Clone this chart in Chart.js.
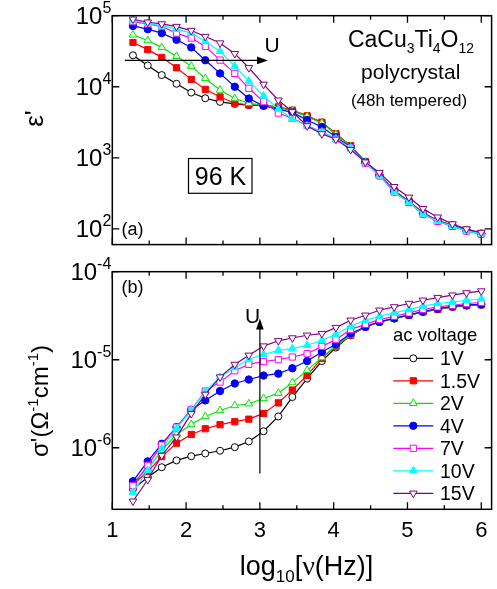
<!DOCTYPE html>
<html>
<head>
<meta charset="utf-8">
<script src="https://cdn.jsdelivr.net/npm/chart.js@4.4.1/dist/chart.umd.min.js"></script>
<style>
  html, body { margin: 0; padding: 0; background: #fff; }
  #wrap { position: relative; width: 497px; height: 589px; overflow: hidden; }
  canvas { position: absolute; left: 0; }
</style>
</head>
<body>
<div id="wrap">
  <canvas id="epsChart" width="497" height="250" style="top:0;width:497px;height:250px"></canvas>
  <canvas id="sigChart" width="497" height="339" style="top:250px;width:497px;height:339px"></canvas>
</div>
<script>
// ---- measured data: log10 of the frequency in Hz ----
const logFreq = [1.28, 1.48, 1.67, 1.87, 2.07, 2.26, 2.46, 2.66, 2.85, 3.05, 3.25, 3.44, 3.64,
                 3.84, 4.03, 4.23, 4.43, 4.62, 4.82, 5.02, 5.21, 5.41, 5.61, 5.80, 6.00];

const voltages = ['1V', '1.5V', '2V', '4V', '7V', '10V', '15V'];

// dielectric constant eps'
const eps1V   = [27700, 19900, 14600, 11000, 8280, 6890, 6120, 5740, 5510, 5420, 5160, 4620, 3850, 3130, 2160, 1460, 877, 581, 344, 243, 167, 131, 112, 96, 86];
const eps1p5V = [42000, 33300, 25900, 18500, 12700, 9200, 7180, 5860, 5550, 5450, 5200, 4680, 3900, 3170, 2190, 1480, 885, 585, 346, 244, 168, 131, 112, 96, 86];
const eps2V   = [53800, 44800, 35800, 26800, 19500, 13100, 8990, 6820, 5860, 5510, 5190, 4590, 3800, 3090, 2140, 1450, 873, 578, 342, 242, 166, 131, 111, 95.5, 85.5];
const eps4V   = [71800, 64600, 56900, 45800, 35800, 23600, 15400, 10000, 6820, 5380, 4840, 4360, 3400, 2720, 1970, 1410, 861, 569, 337, 239, 164, 129, 110, 94.6, 85.1];
const eps7V   = [82400, 76600, 70300, 56900, 48400, 37000, 23700, 15400, 9510, 6150, 4260, 3590, 2850, 2310, 1845, 1380, 841, 556, 330, 234, 161, 127, 108, 93.3, 84.1];
const eps10V  = [87100, 78300, 71800, 64600, 56900, 43400, 31500, 19500, 12000, 7410, 4840, 3510, 2820, 2310, 1845, 1380, 847, 560, 331, 236, 162, 128, 109, 93.8, 85.1];
const eps15V  = [89100, 80900, 76600, 70300, 61800, 50900, 41200, 29200, 18500, 10800, 6460, 4440, 2810, 2170, 1820, 1300, 869, 619, 392, 278, 192, 146, 117, 99.3, 88.7];

// real part of the conductivity sigma' (1/(Ohm cm))
const sig1V   = [3.39e-7, 4.63e-7, 6.01e-7, 7.18e-7, 8.02e-7, 8.61e-7, 9.25e-7, 1.016e-6, 1.18e-6, 1.54e-6, 2.27e-6, 3.77e-6, 6.10e-6, 9.66e-6, 1.374e-5, 1.897e-5, 2.355e-5, 2.685e-5, 2.94e-5, 3.20e-5, 3.49e-5, 3.74e-5, 3.98e-5, 4.12e-5, 4.20e-5];
const sig1p5V = [3.80e-7, 5.37e-7, 7.94e-7, 1.127e-6, 1.416e-6, 1.644e-6, 1.828e-6, 1.977e-6, 2.113e-6, 2.455e-6, 3.236e-6, 4.53e-6, 6.65e-6, 1.035e-5, 1.429e-5, 1.90e-5, 2.36e-5, 2.69e-5, 2.94e-5, 3.20e-5, 3.49e-5, 3.74e-5, 3.98e-5, 4.12e-5, 4.21e-5];
const sig2V   = [4.07e-7, 5.75e-7, 9.33e-7, 1.413e-6, 1.841e-6, 2.27e-6, 2.65e-6, 3.02e-6, 3.16e-6, 3.63e-6, 4.17e-6, 5.50e-6, 7.57e-6, 1.057e-5, 1.445e-5, 1.905e-5, 2.366e-5, 2.69e-5, 2.95e-5, 3.21e-5, 3.51e-5, 3.76e-5, 4.00e-5, 4.14e-5, 4.24e-5];
const sig4V   = [4.17e-7, 7.01e-7, 1.109e-6, 1.714e-6, 2.70e-6, 3.45e-6, 4.41e-6, 5.37e-6, 5.96e-6, 6.61e-6, 6.95e-6, 8.0e-6, 9.66e-6, 1.225e-5, 1.496e-5, 1.982e-5, 2.37e-5, 2.70e-5, 2.95e-5, 3.24e-5, 3.53e-5, 3.80e-5, 4.03e-5, 4.17e-5, 4.27e-5];
const sig7V   = [3.72e-7, 6.31e-7, 1.072e-6, 1.714e-6, 2.70e-6, 4.41e-6, 5.57e-6, 7.5e-6, 8.85e-6, 9.55e-6, 1.002e-5, 1.074e-5, 1.172e-5, 1.419e-5, 1.694e-5, 2.198e-5, 2.53e-5, 2.86e-5, 3.12e-5, 3.40e-5, 3.72e-5, 3.98e-5, 4.16e-5, 4.35e-5, 4.47e-5];
const sig10V  = [3.13e-7, 5.52e-7, 9.75e-7, 1.66e-6, 2.66e-6, 4.37e-6, 6.35e-6, 8.13e-6, 1.012e-5, 1.148e-5, 1.279e-5, 1.337e-5, 1.459e-5, 1.663e-5, 1.945e-5, 2.40e-5, 2.81e-5, 3.12e-5, 3.40e-5, 3.72e-5, 4.06e-5, 4.35e-5, 4.53e-5, 4.74e-5, 4.90e-5];
const sig15V  = [2.47e-7, 4.33e-7, 8.17e-7, 1.321e-6, 2.44e-6, 4.04e-6, 6.35e-6, 8.83e-6, 1.122e-5, 1.429e-5, 1.641e-5, 1.766e-5, 1.897e-5, 1.982e-5, 2.317e-5, 2.81e-5, 3.20e-5, 3.65e-5, 3.98e-5, 4.35e-5, 4.74e-5, 5.08e-5, 5.41e-5, 5.74e-5, 6.03e-5];

// axis ticks
const xMajorTicks = [1, 2, 3, 4, 5, 6];
const xMinorTicks = [1.5, 2.5, 3.5, 4.5, 5.5];
const epsTicks = [1e2, 1e3, 1e4, 1e5];
const sigTicks = [1e-6, 1e-5, 1e-4];

// arrows marking increasing voltage U (data coordinates)
const epsArrow = { from: [1.17, 23500], to: [3.11, 23500] };
const sigArrow = { from: [3.0, 5.1e-7], to: [3.0, 2.94e-5] };

// ---- drawing ----
const SANS = '"Liberation Sans", Arial, Helvetica, sans-serif';
const SERIF = '"Liberation Serif", "Times New Roman", serif';

const styles = [
  { color: '#000000', point: 'circle',   open: true,  r: 3.5, rot: 0 },
  { color: '#ff0000', point: 'rect',     open: false, r: 4.4, rot: 0 },
  { color: '#00e600', point: 'triangle', open: true,  r: 4.4, rot: 0 },
  { color: '#0000ff', point: 'circle',   open: false, r: 3.7, rot: 0 },
  { color: '#ff00ff', point: 'rect',     open: true,  r: 4.4, rot: 0 },
  { color: '#00ffff', point: 'triangle', open: false, r: 4.4, rot: 0 },
  { color: '#800080', point: 'triangle', open: true,  r: 4.4, rot: 180 }
];

function makeDatasets(seriesList) {
  return seriesList.map((vals, i) => {
    const s = styles[i];
    return {
      label: voltages[i],
      data: logFreq.map((f, k) => ({ x: f, y: vals[k] })),
      showLine: true,
      borderColor: s.color,
      borderWidth: 1.2,
      tension: 0,
      pointStyle: s.point,
      pointRotation: s.rot,
      pointRadius: s.r,
      pointHoverRadius: s.r,
      pointBorderColor: s.color,
      pointBackgroundColor: s.open ? '#ffffff' : s.color,
      pointBorderWidth: 1,
      order: 7 - i
    };
  });
}

function drawRich(ctx, parts, x, y, align) {
  let w = 0;
  for (const p of parts) {
    ctx.font = p.s + 'px ' + (p.fam || SANS);
    w += ctx.measureText(p.t).width;
  }
  let cx = align === 'center' ? x - w / 2 : (align === 'right' ? x - w : x);
  ctx.textAlign = 'left';
  ctx.textBaseline = 'alphabetic';
  for (const p of parts) {
    ctx.font = p.s + 'px ' + (p.fam || SANS);
    ctx.fillText(p.t, cx, y + (p.dy || 0));
    cx += ctx.measureText(p.t).width;
  }
}

function drawArrow(ctx, x1, y1, x2, y2) {
  const ang = Math.atan2(y2 - y1, x2 - x1);
  const L = 11, W = 3.8;
  ctx.beginPath();
  ctx.moveTo(x1, y1);
  ctx.lineTo(x2 - L * 0.8 * Math.cos(ang), y2 - L * 0.8 * Math.sin(ang));
  ctx.stroke();
  ctx.beginPath();
  ctx.moveTo(x2, y2);
  ctx.lineTo(x2 - L * Math.cos(ang) - W * Math.sin(ang), y2 - L * Math.sin(ang) + W * Math.cos(ang));
  ctx.lineTo(x2 - L * Math.cos(ang) + W * Math.sin(ang), y2 - L * Math.sin(ang) - W * Math.cos(ang));
  ctx.closePath();
  ctx.fill();
}

// frame with inward ticks on all four sides, plus decade labels on the left
const framePlugin = {
  id: 'framePlugin',
  afterDatasetsDraw(chart, args, opts) {
    const { ctx, chartArea: a } = chart;
    const xs = chart.scales.x, ys = chart.scales.y;
    ctx.save();
    ctx.strokeStyle = '#000';
    ctx.fillStyle = '#000';
    ctx.lineWidth = 1.5;
    ctx.strokeRect(a.left, a.top, a.right - a.left, a.bottom - a.top);
    ctx.lineWidth = 1.3;
    ctx.beginPath();
    for (const v of xMajorTicks) {
      const px = xs.getPixelForValue(v);
      ctx.moveTo(px, a.bottom); ctx.lineTo(px, a.bottom - 7);
      ctx.moveTo(px, a.top); ctx.lineTo(px, a.top + 7);
    }
    for (const v of xMinorTicks) {
      const px = xs.getPixelForValue(v);
      ctx.moveTo(px, a.bottom); ctx.lineTo(px, a.bottom - 4);
      ctx.moveTo(px, a.top); ctx.lineTo(px, a.top + 4);
    }
    for (const v of opts.yTicks) {
      const py = ys.getPixelForValue(v);
      ctx.moveTo(a.left, py); ctx.lineTo(a.left + 7, py);
      ctx.moveTo(a.right, py); ctx.lineTo(a.right - 7, py);
    }
    ctx.stroke();
    // decade labels 10^n
    for (const v of opts.yTicks) {
      const py = ys.getPixelForValue(v);
      const e = Math.round(Math.log10(v));
      drawRich(ctx, [
        { t: '10', s: 24, dy: 8.5 },
        { t: String(e), s: 16, dy: -2.5 }
      ], a.left - 1, py, 'right');
    }
    if (opts.xLabels) {
      ctx.font = '22px ' + SANS;
      ctx.textAlign = 'center';
      ctx.textBaseline = 'alphabetic';
      for (const v of xMajorTicks) {
        ctx.fillText(String(v), xs.getPixelForValue(v), a.bottom + 27.5);
      }
    }
    ctx.restore();
  },
  afterDraw(chart, args, opts) {
    if (opts.extra) opts.extra(chart);
  }
};

function epsExtras(chart) {
  const { ctx } = chart;
  const xs = chart.scales.x, ys = chart.scales.y;
  ctx.save();
  ctx.fillStyle = '#000';
  ctx.strokeStyle = '#000';
  // y axis title
  ctx.save();
  ctx.translate(43, 118.5);
  ctx.rotate(-Math.PI / 2);
  drawRich(ctx, [{ t: 'ε', s: 26 }, { t: '\'', s: 26 }], 0, 0, 'center');
  ctx.restore();
  // sample description
  drawRich(ctx, [
    { t: 'CaCu', s: 23 }, { t: '3', s: 14, dy: 6 },
    { t: 'Ti', s: 23 }, { t: '4', s: 14, dy: 6 },
    { t: 'O', s: 23 }, { t: '12', s: 14, dy: 6 }
  ], 411, 46.7, 'center');
  drawRich(ctx, [{ t: 'polycrystal', s: 21 }], 410.7, 78.5, 'center');
  drawRich(ctx, [{ t: '(48h tempered)', s: 17 }], 409, 106, 'center');
  // temperature box
  ctx.lineWidth = 1.2;
  ctx.strokeRect(188.5, 158.5, 63.5, 34.8);
  drawRich(ctx, [{ t: '96 K', s: 25 }], 220.5, 185, 'center');
  // panel tag
  drawRich(ctx, [{ t: '(a)', s: 18 }], 121.5, 234.5, 'left');
  // voltage arrow
  ctx.lineWidth = 1.2;
  drawArrow(ctx,
    xs.getPixelForValue(epsArrow.from[0]), ys.getPixelForValue(epsArrow.from[1]),
    xs.getPixelForValue(epsArrow.to[0]), ys.getPixelForValue(epsArrow.to[1]));
  drawRich(ctx, [{ t: 'U', s: 21 }], 264.5, 52, 'left');
  ctx.restore();
}

function sigExtras(chart) {
  const { ctx } = chart;
  const xs = chart.scales.x, ys = chart.scales.y;
  ctx.save();
  ctx.fillStyle = '#000';
  ctx.strokeStyle = '#000';
  // y axis title
  ctx.save();
  ctx.translate(48, 151);
  ctx.rotate(-Math.PI / 2);
  drawRich(ctx, [
    { t: 'σ\'(Ω', s: 24 }, { t: '-1', s: 15, dy: -10 },
    { t: 'cm', s: 24 }, { t: '-1', s: 15, dy: -10 },
    { t: ')', s: 24 }
  ], 0, 0, 'center');
  ctx.restore();
  // x axis title
  drawRich(ctx, [
    { t: 'log', s: 27 }, { t: '10', s: 17, dy: 7 },
    { t: '[', s: 27 }, { t: 'ν', s: 28, fam: SERIF }, { t: '(Hz)]', s: 27 }
  ], 306.5, 325, 'center');
  // panel tag
  drawRich(ctx, [{ t: '(b)', s: 18 }], 121.5, 43, 'left');
  // voltage arrow
  ctx.lineWidth = 1.2;
  drawArrow(ctx,
    xs.getPixelForValue(sigArrow.from[0]), ys.getPixelForValue(sigArrow.from[1]),
    xs.getPixelForValue(sigArrow.to[0]), ys.getPixelForValue(sigArrow.to[1]));
  drawRich(ctx, [{ t: 'U', s: 21 }], 245, 73, 'left');
  // legend
  drawRich(ctx, [{ t: 'ac voltage', s: 18.5 }], 393, 91, 'left');
  chart.data.datasets.forEach((ds, i) => {
    const cy = 108.3 + i * 22.5;
    ctx.strokeStyle = ds.borderColor;
    ctx.lineWidth = 1.2;
    ctx.beginPath();
    ctx.moveTo(393.3, cy); ctx.lineTo(433.3, cy);
    ctx.stroke();
    ctx.fillStyle = ds.pointBackgroundColor;
    ctx.strokeStyle = ds.pointBorderColor;
    ctx.lineWidth = 1;
    Chart.helpers.drawPoint(ctx, {
      pointStyle: ds.pointStyle, rotation: ds.pointRotation,
      radius: ds.pointRadius, borderWidth: 1
    }, 413.3, cy);
    ctx.fillStyle = '#000';
    drawRich(ctx, [{ t: ds.label, s: 19.5 }], 440, cy + 7, 'left');
  });
  ctx.restore();
}

function baseOptions(yMin, yMax, padding, pluginOpts) {
  return {
    responsive: false,
    animation: false,
    devicePixelRatio: 1,
    layout: { padding },
    scales: {
      x: { type: 'linear', min: 1, max: 6.14, display: false },
      y: { type: 'logarithmic', min: yMin, max: yMax, display: false }
    },
    plugins: {
      legend: { display: false },
      tooltip: { enabled: false },
      framePlugin: pluginOpts
    }
  };
}

new Chart(document.getElementById('epsChart'), {
  type: 'scatter',
  data: { datasets: makeDatasets([eps1V, eps1p5V, eps2V, eps4V, eps7V, eps10V, eps15V]) },
  options: baseOptions(60, 1e5,
    { left: 112.3, right: 1, top: 15.7, bottom: 3.3 },
    { yTicks: epsTicks, xLabels: false, extra: epsExtras }),
  plugins: [framePlugin]
});

new Chart(document.getElementById('sigChart'), {
  type: 'scatter',
  data: { datasets: makeDatasets([sig1V, sig1p5V, sig2V, sig4V, sig7V, sig10V, sig15V]) },
  options: baseOptions(2e-7, 1e-4,
    { left: 112.3, right: 1, top: 21.7, bottom: 79.7 },
    { yTicks: sigTicks, xLabels: true, extra: sigExtras }),
  plugins: [framePlugin]
});
</script>
</body>
</html>
